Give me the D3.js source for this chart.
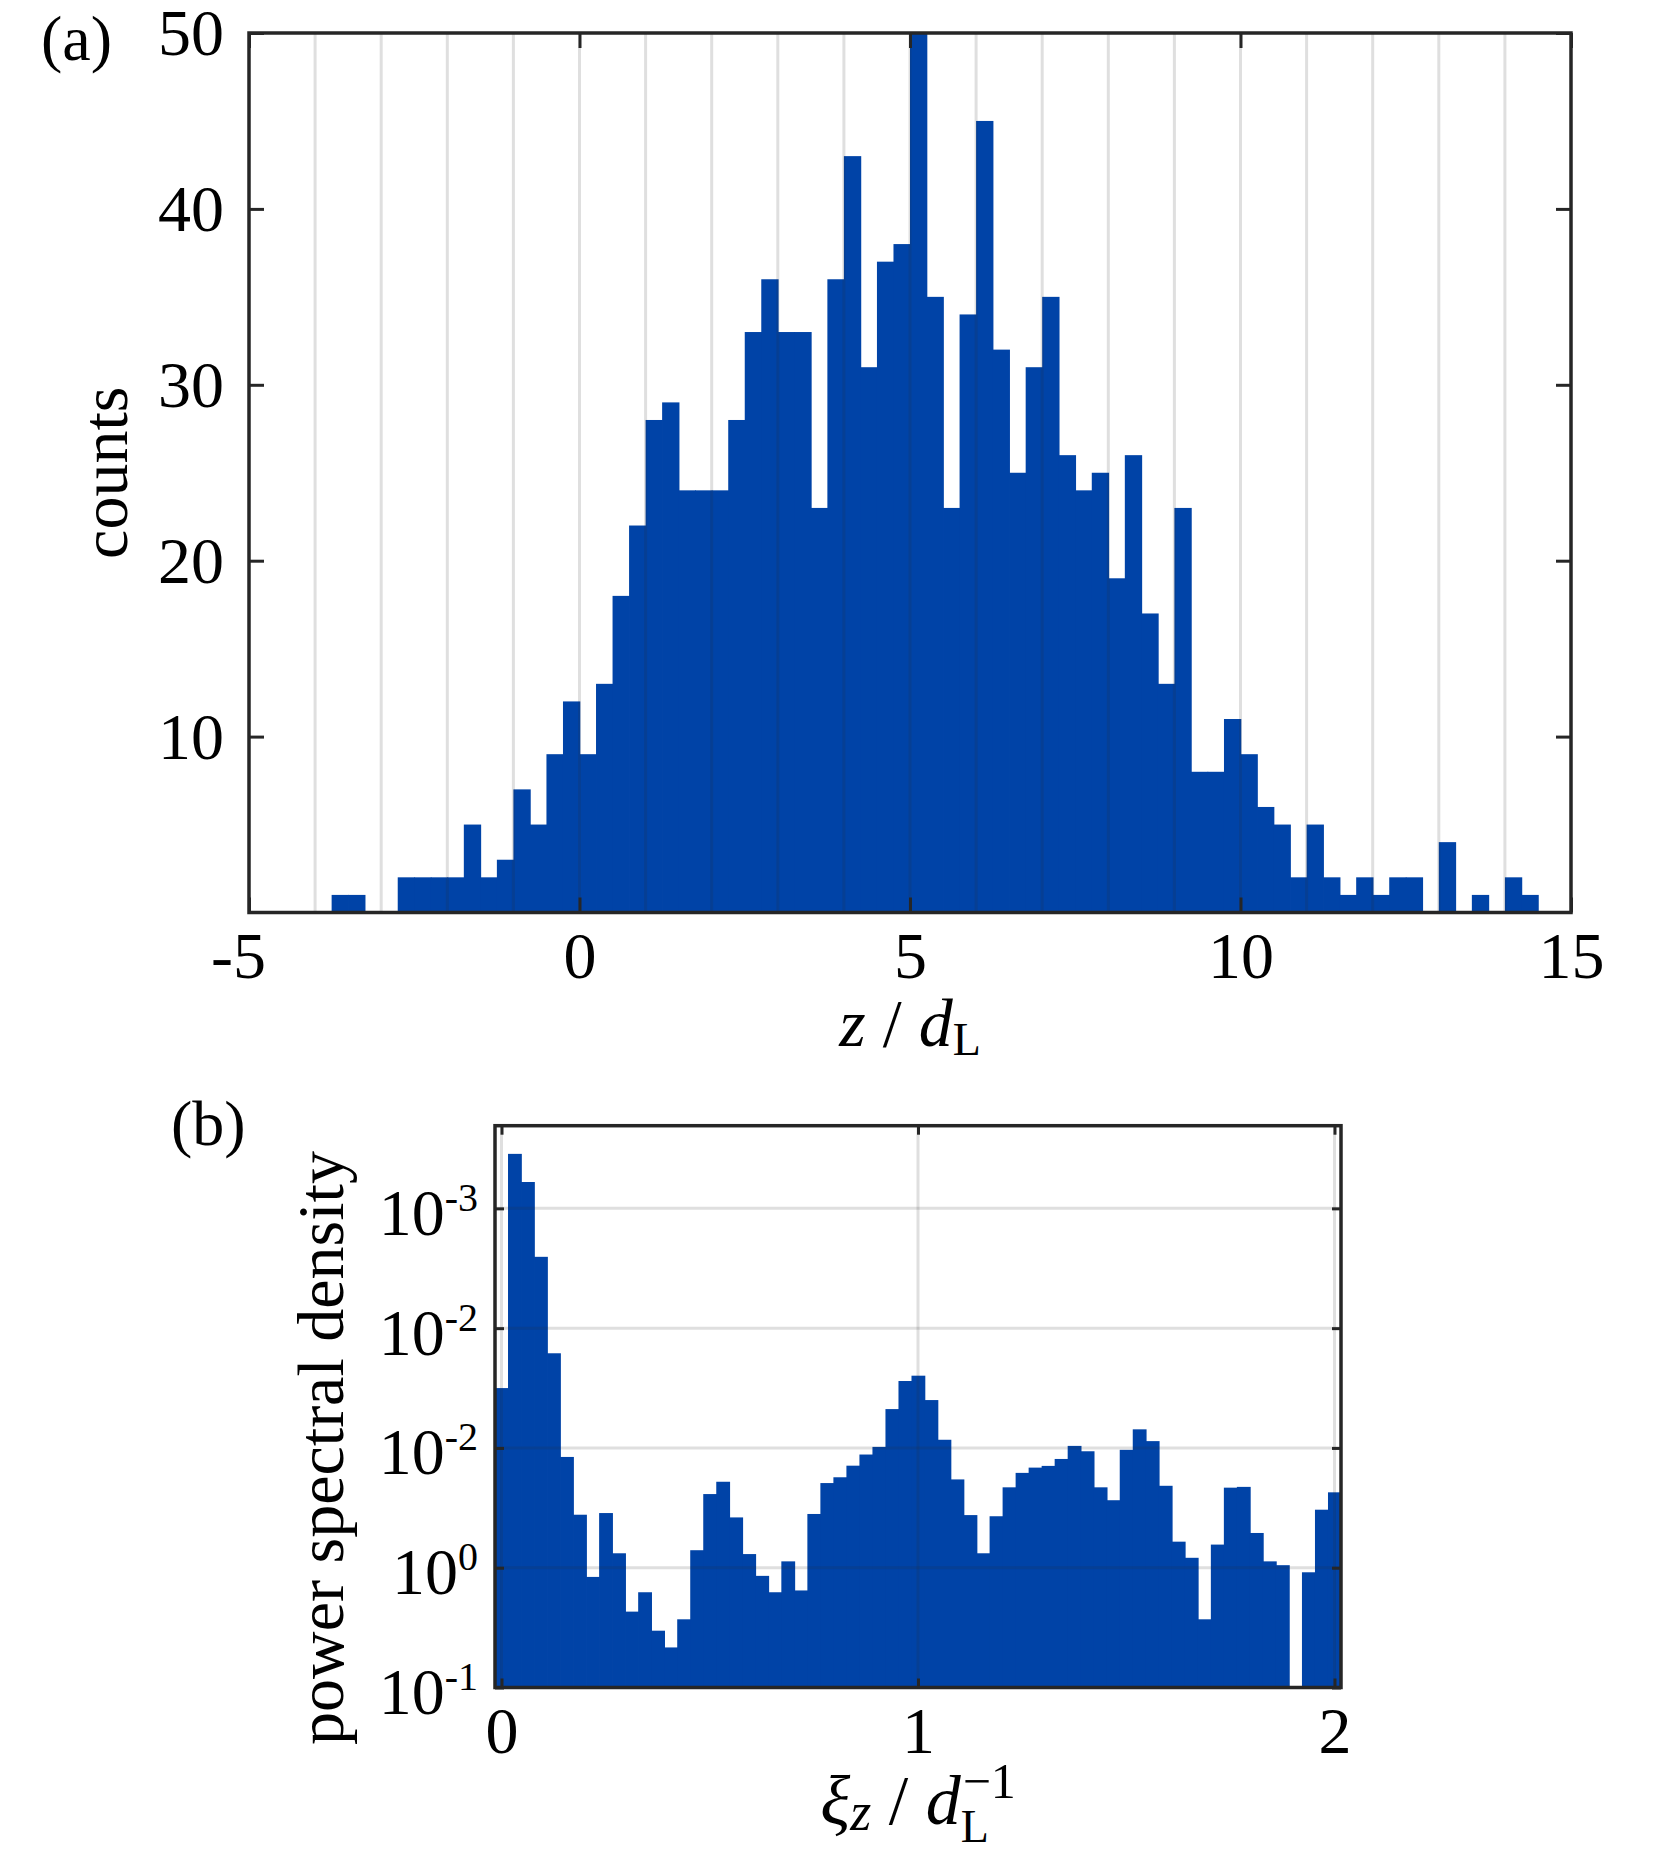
<!DOCTYPE html>
<html>
<head>
<meta charset="utf-8">
<script src="https://cdn.jsdelivr.net/npm/d3@7"></script>
<style>
  body { margin: 0; background: #ffffff; }
  svg text { font-family: "Liberation Serif", "Times New Roman", serif; fill: #000; }
</style>
</head>
<body>
<svg id="chart" width="1661" height="1851"></svg>
<script>
// ---------------- DATA ----------------
// Panel (a): histogram of z / d_L (bin left edges start at -5, width 0.25)
const zBinStart = -5;
const zBinWidth = 0.25;
const zCounts = [0,0,0,0,0,1,1,0,0,2,2,2,2,5,2,3,7,5,9,12,9,13,18,22,28,29,24,24,24,28,
                 33,36,33,33,23,36,43,31,37,38,50,35,23,34,45,32,25,31,35,26,24,25,19,26,17,13,23,8,8,11,
                 9,6,5,2,5,2,1,2,1,2,2,0,4,0,1,0,2,1,0,0];
const zDomain = [-5, 15];
const zTicks = [-5, 0, 5, 10, 15];
const zTickLabels = ["-5", "0", "5", "10", "15"];
const zGridLines = [-4,-3,-2,-1,0,1,2,3,4,5,6,7,8,9,10,11,12,13,14];
const countDomain = [0, 50];
const countTicks = [10, 20, 30, 40, 50];
const countTickLabels = ["10", "20", "30", "40", "50"];

// Panel (b): power spectral density, bins centred at k/32
const xiBinWidth = 1 / 32;
const psdValues = [31.6, 2851, 1660, 394, 61.7, 8.41, 2.77, 0.838, 2.86, 1.32,
                   0.430, 0.624, 0.298, 0.216, 0.371, 1.40, 4.12, 5.22, 2.63, 1.30,
                   0.855, 0.624, 1.13, 0.646, 2.81, 5.09, 5.69, 7.11, 8.81, 10.2,
                   21.1, 36.2, 40.1, 25.1, 11.7, 5.46, 2.75, 1.32, 2.69, 4.69,
                   6.19, 6.85, 7.08, 8.09, 10.4, 9.38, 4.69, 3.66, 9.64, 14.3,
                   11.4, 4.83, 1.65, 1.21, 0.371, 1.56, 4.66, 4.73, 1.95, 1.13,
                   1.05, null, 0.916, 3.05, 4.26];
const xiDomain = [-1 / 64, 2 + 1 / 64];
const xiTicks = [0, 1, 2];
const xiTickLabels = ["0", "1", "2"];
const psdDomain = [0.1, 4900];
const psdTicks = [0.1, 1, 10, 100, 1000];
const psdTickBase = ["10", "10", "10", "10", "10"];
const psdTickExp = ["-1", "0", "-2", "-2", "-3"];

// ---------------- STYLE / LAYOUT ----------------
const BAR = "#0043a7";
const AXIS = "#262626";
const FONT = 66;
const svg = d3.select("#chart");

const A = { left: 249, right: 1571, top: 33, bottom: 912.5 };
const B = { left: 495, right: 1341, top: 1125.7, bottom: 1687.5 };

function styleAxis(g, width) {
  g.select(".domain").remove();
  g.selectAll(".tick line").attr("stroke", AXIS).attr("stroke-width", width);
  g.selectAll("text").attr("font-size", FONT).attr("fill", "#000")
    .style("font-family", "'Liberation Serif','Times New Roman',serif");
}
// MATLAB-style: centre the digits of negative labels, minus sign hangs left
function hangMinus(g) {
  g.selectAll(".tick text").each(function () {
    const s = this.textContent;
    if (s.startsWith("-")) {
      const full = this.getComputedTextLength();
      const rest = this.getSubStringLength(1, s.length - 1);
      d3.select(this).attr("dx", -(full - rest) / 2);
    }
  });
}

// ================= PANEL (a) =================
const xA = d3.scaleLinear().domain(zDomain).range([A.left, A.right]);
const yA = d3.scaleLinear().domain(countDomain).range([A.bottom, A.top]);

const zBins = zCounts.map((c, i) => ({ x0: zBinStart + i * zBinWidth, x1: zBinStart + (i + 1) * zBinWidth, c }));
svg.append("g").selectAll("rect").data(zBins.filter(d => d.c > 0)).join("rect")
  .attr("x", d => xA(d.x0))
  .attr("width", d => xA(d.x1) - xA(d.x0) + 0.8)
  .attr("y", d => yA(d.c))
  .attr("height", d => yA(0) - yA(d.c))
  .attr("fill", BAR);

// vertical grid (on top)
svg.append("g").selectAll("line").data(zGridLines).join("line")
  .attr("x1", d => xA(d)).attr("x2", d => xA(d))
  .attr("y1", A.top).attr("y2", A.bottom)
  .attr("stroke", AXIS).attr("stroke-opacity", 0.15).attr("stroke-width", 3);

const tickA = 15;
const gAb = svg.append("g").attr("transform", `translate(0,${A.bottom})`)
  .call(d3.axisBottom(xA).tickValues(zTicks).tickSize(-tickA).tickPadding(19)
        .tickFormat((d, i) => zTickLabels[i]));
styleAxis(gAb, 3);
hangMinus(gAb);
const gAt = svg.append("g").attr("transform", `translate(0,${A.top})`)
  .call(d3.axisTop(xA).tickValues(zTicks).tickSize(-tickA).tickFormat(""));
styleAxis(gAt, 3);
const gAl = svg.append("g").attr("transform", `translate(${A.left},0)`)
  .call(d3.axisLeft(yA).tickValues(countTicks).tickSize(-tickA).tickPadding(25)
        .tickFormat((d, i) => countTickLabels[i]));
styleAxis(gAl, 3);
gAl.selectAll("text").attr("dy", "0.33em");
const gAr = svg.append("g").attr("transform", `translate(${A.right},0)`)
  .call(d3.axisRight(yA).tickValues(countTicks).tickSize(-tickA).tickFormat(""));
styleAxis(gAr, 3);

svg.append("rect").attr("x", A.left).attr("y", A.top)
  .attr("width", A.right - A.left).attr("height", A.bottom - A.top)
  .attr("fill", "none").attr("stroke", AXIS).attr("stroke-width", 3.5);

// labels (a)
svg.append("text").attr("x", 41).attr("y", 60).attr("font-size", 64).text("(a)");
svg.append("text").attr("transform", `translate(127,${(A.top + A.bottom) / 2}) rotate(-90)`)
  .attr("text-anchor", "middle").attr("font-size", FONT).text("counts");
const xlA = svg.append("text").attr("x", (A.left + A.right) / 2).attr("y", 1046)
  .attr("text-anchor", "middle").attr("font-size", 68);
xlA.append("tspan").attr("font-style", "italic").text("z");
xlA.append("tspan").text(" / ");
xlA.append("tspan").attr("font-style", "italic").text("d");
xlA.append("tspan").attr("font-size", 46).attr("dy", 9).text("L");

// ================= PANEL (b) =================
const xB = d3.scaleLinear().domain(xiDomain).range([B.left, B.right]);
const yB = d3.scaleLog().domain(psdDomain).range([B.bottom, B.top]);

const psdBins = psdValues.map((v, k) => ({ x0: k * xiBinWidth - xiBinWidth / 2, x1: k * xiBinWidth + xiBinWidth / 2, v }));
svg.append("g").selectAll("rect").data(psdBins.filter(d => d.v !== null)).join("rect")
  .attr("x", d => xB(d.x0))
  .attr("width", d => Math.min(xB(d.x1) - xB(d.x0) + 0.8, B.right - xB(d.x0)))
  .attr("y", d => yB(d.v))
  .attr("height", d => yB(psdDomain[0]) - yB(d.v))
  .attr("fill", BAR);

// grid (on top)
svg.append("g").selectAll("line").data(xiTicks).join("line")
  .attr("x1", d => xB(d)).attr("x2", d => xB(d))
  .attr("y1", B.top).attr("y2", B.bottom)
  .attr("stroke", AXIS).attr("stroke-opacity", 0.15).attr("stroke-width", 3);
svg.append("g").selectAll("line").data(psdTicks).join("line")
  .attr("x1", B.left).attr("x2", B.right)
  .attr("y1", d => yB(d)).attr("y2", d => yB(d))
  .attr("stroke", AXIS).attr("stroke-opacity", 0.15).attr("stroke-width", 3);

const tickB = 9;
const gBb = svg.append("g").attr("transform", `translate(0,${B.bottom})`)
  .call(d3.axisBottom(xB).tickValues(xiTicks).tickSize(-tickB).tickPadding(19)
        .tickFormat((d, i) => xiTickLabels[i]));
styleAxis(gBb, 3);
const gBt = svg.append("g").attr("transform", `translate(0,${B.top})`)
  .call(d3.axisTop(xB).tickValues(xiTicks).tickSize(-tickB).tickFormat(""));
styleAxis(gBt, 3);
const gBl = svg.append("g").attr("transform", `translate(${B.left},0)`)
  .call(d3.axisLeft(yB).tickValues(psdTicks).tickSize(-tickB).tickPadding(17)
        .tickFormat(() => ""));
styleAxis(gBl, 3);
gBl.selectAll(".tick text").each(function (d, i) {
  const t = d3.select(this).attr("dy", null).attr("y", 26);
  t.text(null);
  t.append("tspan").text(psdTickBase[i]);
  t.append("tspan").attr("font-size", 40).attr("dy", -24).text(psdTickExp[i]);
});
const gBr = svg.append("g").attr("transform", `translate(${B.right},0)`)
  .call(d3.axisRight(yB).tickValues(psdTicks).tickSize(-tickB).tickFormat(""));
styleAxis(gBr, 3);

svg.append("rect").attr("x", B.left).attr("y", B.top)
  .attr("width", B.right - B.left).attr("height", B.bottom - B.top)
  .attr("fill", "none").attr("stroke", AXIS).attr("stroke-width", 3.5);

// labels (b)
svg.append("text").attr("x", 171).attr("y", 1145).attr("font-size", 64).text("(b)");
svg.append("text").attr("transform", `translate(343,1448) rotate(-90)`)
  .attr("text-anchor", "middle").attr("font-size", FONT).text("power spectral density");

const xlB = svg.append("text").attr("x", 0).attr("y", 1824).attr("font-size", 70);
xlB.append("tspan").attr("font-style", "italic").text("ξ");
xlB.append("tspan").attr("font-style", "italic").attr("font-size", 54).attr("dy", 6).text("z");
xlB.append("tspan").attr("dy", -6).text(" / ");
xlB.append("tspan").attr("font-style", "italic").text("d");
const Lsub = xlB.append("tspan").attr("font-size", 46).attr("dy", 18).text("L");
const supB = xlB.append("tspan").attr("font-size", 50).attr("dy", -44).text("−1");
const Lw = Lsub.node().getComputedTextLength();
supB.attr("dx", -Lw + 2);
const bbB = xlB.node().getBBox();
xlB.attr("transform", `translate(${(B.left + B.right) / 2 - (bbB.x + bbB.width / 2)},0)`);
</script>
</body>
</html>
